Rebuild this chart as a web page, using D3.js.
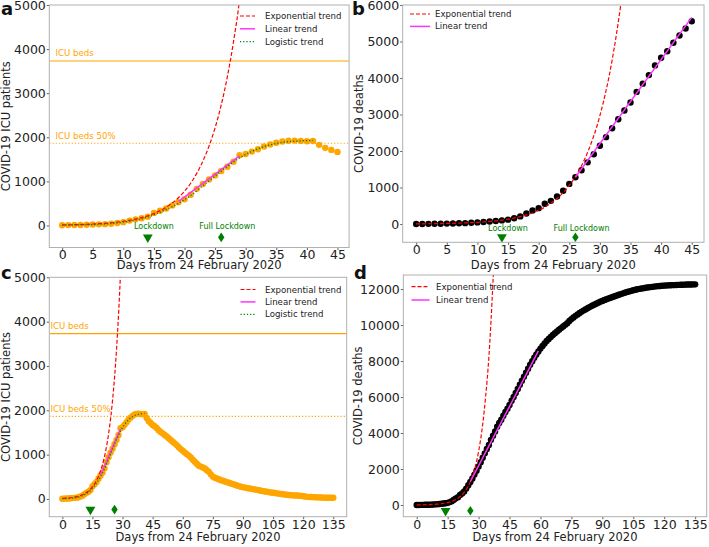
<!DOCTYPE html>
<html><head><meta charset="utf-8">
<script src="https://cdn.jsdelivr.net/npm/d3@7"></script>
<style>
body{margin:0;background:#fff}
svg{display:block}
text{font-family:"DejaVu Sans",sans-serif}
</style>
</head><body>
<svg id="chart" width="709" height="547"></svg>
<script>
// ---------------- DATA ----------------
const daysA = d3.range(0, 46);          // days 0..45
const daysC = d3.range(0, 136);         // days 0..135

const icuFirst = [5,8,10,12,15,20,25,30,40,55,75,110,138,162,200,285,332,385,455,528,595,695,830,940,1045,1135,1235,1330,1445,1595,
  1620,1675,1730,1790,1835,1875,1905,1920,1925,1918,1910,1915,1828,1760,1714,1668];
const icuTail = [1640,1600,1550,1512,1480,1445,1410,1370,1330,1290,1255,1215,1165,1125,1090,1050,1012,978,935,885,842,795,752,730,712,688,650,612,555,505,
  480,462,445,425,410,395,380,365,350,335,320,305,290,278,266,256,247,238,230,222,214,205,196,187,178,170,162,154,147,141,
  134,127,120,113,106,99,94,89,85,82,79,77,74,69,62,54,48,45,43,41,39,37,35,33,31,30,29,28,27,26];
const icuAll = icuFirst.concat(icuTail);

const deathsFirst = [2,3,5,7,10,12,15,20,25,35,45,55,70,85,100,120,160,210,290,370,435,555,635,755,910,1100,1280,1475,1690,1910,
  2145,2380,2625,2870,3110,3330,3620,3845,4080,4345,4555,4735,4965,5165,5355,5555];
const deathsTail = [5790,6000,6220,6450,6680,6900,7130,7350,7570,7790,7990,8180,8360,8530,8690,8840,8980,9110,9230,9340,
  9445,9545,9640,9735,9830,9920,10010,10100,10230,10330,10420,10510,10590,10670,10745,10815,10880,10945,11010,11070,
  11130,11185,11240,11290,11340,11390,11435,11480,11520,11560,11600,11640,11680,11720,11760,11800,11840,11870,11900,11930,
  11960,11990,12010,12030,12050,12070,12090,12105,12120,12135,12150,12160,12170,12180,12190,12200,12205,12210,12215,12220,
  12225,12230,12235,12240,12245,12248,12251,12254,12257,12260];
const deathsAll = deathsFirst.concat(deathsTail);

// trend curves [day, value]
const icuExpTrend = [[0,12],[5,33],[10,95],[14,220],[17,413],[19,628],[21,957],[23,1456],[24.2,1873],[25,2216],[26,2733],[27,3372],[28,4160],[29,5132],[29.5,5800]];
const icuLinTrend = [[19,540],[29,1580]];
const icuLogTrend = [[0,8],[5,20],[10,75],[14,190],[17,360],[19,500],[21,680],[23,900],[25,1120],[27,1340],[29,1530],[31,1680],[33,1790],[35,1860],[37,1900],[39,1920],[41,1930]];
const deathsExpTrend = [[0,6],[5,17],[10,48],[14,109],[17,203],[20,376],[22,569],[24,860],[26,1300],[28,1965],[30,2970],[32,4491],[33.4,6000],[35,8237],[37,12450],[38,15000]];
const deathsLinTrendB = [[26,1280],[45,5660]];
const deathsLinTrendD = [[26,1300],[59,8560]];

const icuBeds = 3730;
const icuBedsHalf = 1865;
const lockdownDays = [14, 26];
const lockdownNames = ["Lockdown", "Full Lockdown"];
const ticksX45 = d3.range(0, 46, 5);
const ticksX135 = d3.range(0, 136, 15);
const ticksY5000 = d3.range(0, 5001, 1000);
const ticksY6000 = d3.range(0, 6001, 1000);
const ticksY12000 = d3.range(0, 12001, 2000);
const legendNames = ["Exponential trend", "Linear trend", "Logistic trend"];

// ---------------- DRAWING ----------------
const svg = d3.select("#chart");
const ORANGE = "#ffa500", RED = "#ff0000", MAG = "#ff33ff", GREEN = "#008000";
const styles = {
  exp: {stroke: RED, dash: "4,2", w: 1.2},
  lin: {stroke: MAG, dash: null, w: 1.5},
  log: {stroke: GREEN, dash: "1.2,2", w: 1.3}
};

function panel(o) {
  const g = svg.append("g");
  const x = d3.scaleLinear().domain(o.xDom).range([o.L, o.R]);
  const y = d3.scaleLinear().domain(o.yDom).range([o.B, o.T]);
  const id = "clip" + o.letter;
  g.append("clipPath").attr("id", id).append("rect")
    .attr("x", o.L).attr("y", o.T).attr("width", o.R - o.L).attr("height", o.B - o.T);

  // axes
  const ax = g.append("g").attr("transform", `translate(0,${o.B})`)
    .call(d3.axisBottom(x).tickValues(o.xTicks).tickSize(2.5).tickPadding(0.5));
  const ay = g.append("g").attr("transform", `translate(${o.L},0)`)
    .call(d3.axisLeft(y).tickValues(o.yTicks).tickSize(2.5).tickPadding(1).tickFormat(d3.format("d")));
  [ax, ay].forEach(a => {
    a.select(".domain").remove();
    a.selectAll("line").attr("stroke", "#333").attr("stroke-width", 0.8);
    a.selectAll("text").attr("font-size", 12.5).attr("fill", "#222").attr("font-family", "DejaVu Sans");
  });

  const pg = g.append("g").attr("clip-path", `url(#${id})`);

  // reference lines
  if (o.beds) {
    pg.append("line").attr("x1", o.L).attr("x2", o.R).attr("y1", y(icuBeds)).attr("y2", y(icuBeds))
      .attr("stroke", ORANGE).attr("stroke-width", 1.2);
    pg.append("line").attr("x1", o.L).attr("x2", o.R).attr("y1", y(icuBedsHalf)).attr("y2", y(icuBedsHalf))
      .attr("stroke", ORANGE).attr("stroke-width", 1.2).attr("stroke-dasharray", "1.2,2");
    g.append("text").attr("x", o.bedsTextX).attr("y", y(icuBeds) - 4.5).text("ICU beds")
      .attr("font-size", 8.6).attr("fill", ORANGE);
    g.append("text").attr("x", o.bedsTextX).attr("y", y(icuBedsHalf) - 4).text("ICU beds 50%")
      .attr("font-size", 8.6).attr("fill", ORANGE);
  }

  // data points
  pg.selectAll("circle.pt").data(o.values).join("circle").attr("class", "pt")
    .attr("cx", (d, i) => x(o.days[i])).attr("cy", d => y(d)).attr("r", 3.2)
    .attr("fill", o.color);

  // trends
  const line = d3.line().x(d => x(d[0])).y(d => y(d[1])).curve(d3.curveMonotoneX);
  o.trends.forEach(t => {
    const s = styles[t.kind];
    pg.append("path").datum(t.data).attr("d", line).attr("fill", "none")
      .attr("stroke", s.stroke).attr("stroke-width", s.w)
      .attr("stroke-dasharray", s.dash);
  });

  // lockdown markers
  const tri = d3.symbol().type(d3.symbolTriangle).size(42);
  const mk = o.markerY;
  g.append("path").attr("d", tri()).attr("transform", `translate(${x(lockdownDays[0])},${y(mk)}) rotate(180)`)
    .attr("fill", GREEN);
  g.append("path").attr("d", "M0,-4.8L3.2,0L0,4.8L-3.2,0Z")
    .attr("transform", `translate(${x(lockdownDays[1])},${y(mk)})`).attr("fill", GREEN);
  if (o.lockLabels) {
    lockdownDays.forEach((d, i) => {
      g.append("text").attr("x", x(d + 1)).attr("y", y(mk) - o.lockLabelOff)
        .attr("text-anchor", "middle").attr("font-size", 8).attr("fill", GREEN).text(lockdownNames[i]);
    });
  }

  // spines
  g.append("rect").attr("x", o.L).attr("y", o.T).attr("width", o.R - o.L).attr("height", o.B - o.T)
    .attr("fill", "none").attr("stroke", "#b0b0b0").attr("stroke-width", 1);

  // legend
  const lg = g.append("g");
  o.legend.forEach((k, i) => {
    const s = styles[k];
    const yy = o.legY + i * o.legStep;
    lg.append("line").attr("x1", o.legX).attr("x2", o.legX + o.legLen).attr("y1", yy).attr("y2", yy)
      .attr("stroke", s.stroke).attr("stroke-width", s.w).attr("stroke-dasharray", s.dash);
    lg.append("text").attr("x", o.legTextX).attr("y", yy + 3).attr("font-size", 8.6).attr("fill", "#222")
      .text(legendNames[["exp", "lin", "log"].indexOf(k)]);
  });

  // axis titles
  g.append("text").attr("x", (o.L + o.R) / 2 + o.xtOff).attr("y", o.xtY).attr("text-anchor", "middle")
    .attr("font-size", 11.5).attr("fill", "#222").text("Days from 24 February 2020");
  g.append("text").attr("transform", `translate(${o.ytX},${(o.T + o.B) / 2}) rotate(-90)`)
    .attr("text-anchor", "middle").attr("font-size", 11.5).attr("fill", "#222").text(o.ytitle);

  // panel letter
  g.append("text").attr("x", o.letX).attr("y", o.letY).attr("font-size", 18).attr("font-weight", "bold")
    .attr("fill", "#111").text(o.letter);
}

panel({letter: "a", letX: 1, letY: 15, L: 49.3, R: 349.1, T: 5, B: 247.5,
  xDom: [-2.1, 46.9], yDom: [-500, 5000], xTicks: ticksX45, yTicks: ticksY5000,
  days: daysA, values: icuFirst, color: ORANGE,
  trends: [{kind: "exp", data: icuExpTrend}, {kind: "lin", data: icuLinTrend}, {kind: "log", data: icuLogTrend}],
  beds: true, bedsTextX: 55.5, markerY: -270, lockLabels: true, lockLabelOff: 8.5,
  legend: ["exp", "lin", "log"], legX: 240, legLen: 15, legTextX: 265, legY: 16, legStep: 12.8,
  xtY: 268.5, xtOff: 0, ytX: 9.5, ytitle: "COVID-19 ICU patients"});

panel({letter: "b", letX: 352, letY: 15, L: 402.7, R: 704, T: 5, B: 242.3,
  xDom: [-2.2, 47.0], yDom: [-500, 6000], xTicks: ticksX45, yTicks: ticksY6000,
  days: daysA, values: deathsFirst, color: "#000",
  trends: [{kind: "exp", data: deathsExpTrend}, {kind: "lin", data: deathsLinTrendB}],
  beds: false, markerY: -360, lockLabels: true, lockLabelOff: 6.5,
  legend: ["exp", "lin"], legX: 410, legLen: 20, legTextX: 435, legY: 14, legStep: 12.4,
  xtY: 268.5, xtOff: 0, ytX: 363, ytitle: "COVID-19 deaths"});

panel({letter: "c", letX: 1, letY: 279, L: 49.3, R: 346.7, T: 277.3, B: 516.7,
  xDom: [-6.5, 141.7], yDom: [-400, 5000], xTicks: ticksX135, yTicks: ticksY5000,
  days: daysC, values: icuAll, color: ORANGE,
  trends: [{kind: "exp", data: icuExpTrend}, {kind: "lin", data: icuLinTrend}, {kind: "log", data: icuLogTrend}],
  beds: true, bedsTextX: 50.5, markerY: -240, lockLabels: false,
  legend: ["exp", "lin", "log"], legX: 240.5, legLen: 15, legTextX: 265, legY: 289.5, legStep: 12.4,
  xtY: 540.5, xtOff: 0, ytX: 9.5, ytitle: "COVID-19 ICU patients"});

panel({letter: "d", letX: 354, letY: 279, L: 403.3, R: 706.7, T: 275, B: 516.7,
  xDom: [-6.5, 140.6], yDom: [-650, 12780], xTicks: ticksX135, yTicks: ticksY12000,
  days: daysC, values: deathsAll, color: "#000",
  trends: [{kind: "exp", data: deathsExpTrend}, {kind: "lin", data: deathsLinTrendD}],
  beds: false, markerY: -320, lockLabels: false,
  legend: ["exp", "lin"], legX: 411.5, legLen: 18, legTextX: 436, legY: 286.7, legStep: 13.3,
  xtY: 540.5, xtOff: 0, ytX: 362, ytitle: "COVID-19 deaths"});
</script>
</body></html>
